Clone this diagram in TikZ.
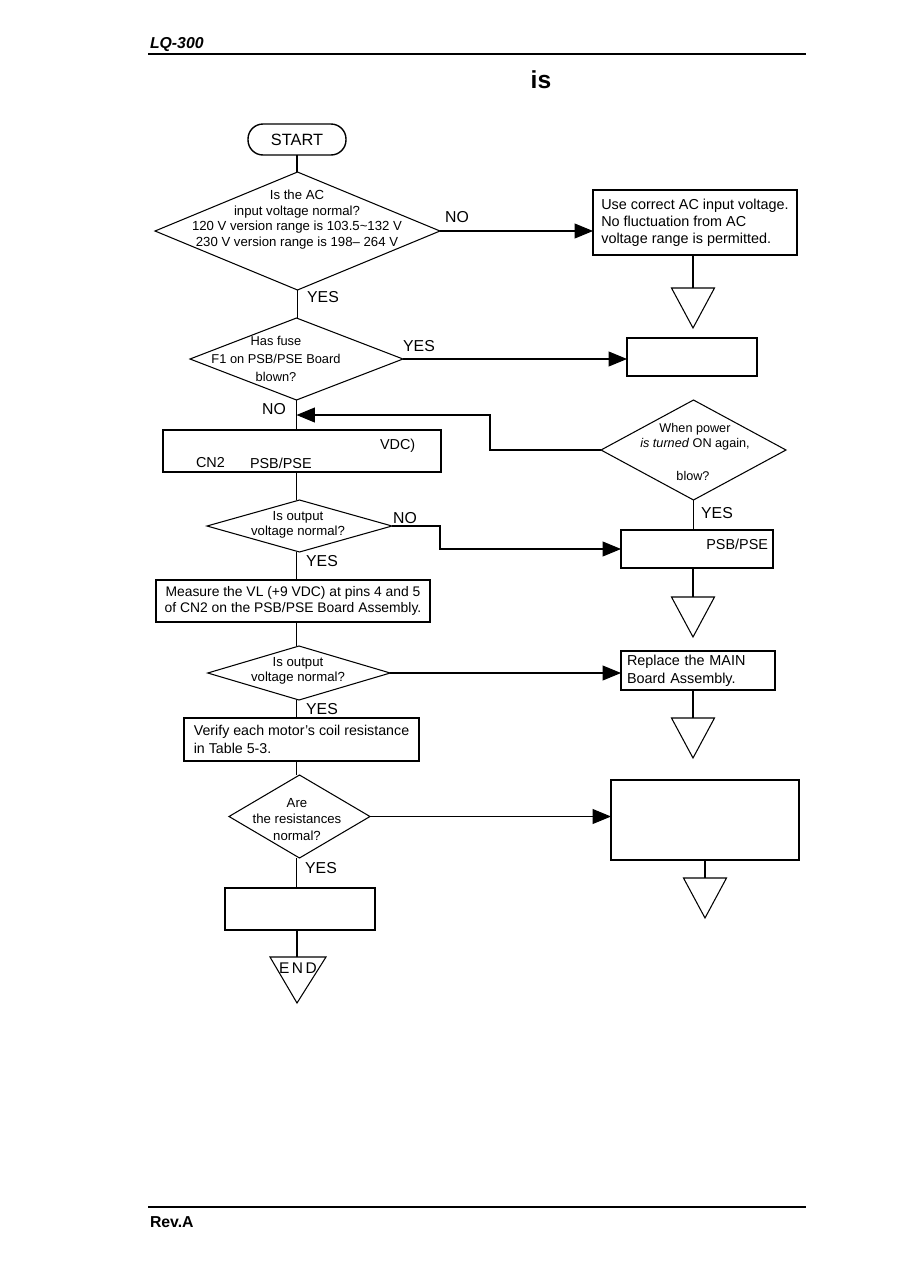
\documentclass[tikz,border=0pt]{standalone}
\usepackage{fontspec}
\setmainfont{Liberation Sans}
\usetikzlibrary{shapes.geometric,arrows.meta}
\tikzset{
  every node/.style={inner sep=0pt, outer sep=0pt},
  box/.style={draw, rectangle, line width=0.9pt},
  dia/.style={draw, diamond, line width=0.6pt, inner sep=0pt},
  ln/.style={line width=0.6pt},
  arr/.style={ln, -{Triangle[length=0.37cm,width=0.3cm]}},
  lbl/.style={font=\fontsize{9}{10}\selectfont},
  dtxt/.style={align=center, font=\fontsize{7.5}{8.9}\selectfont},
  btxt/.style={font=\fontsize{8.2}{9.8}\selectfont},
  stoptri/.pic={\coordinate (-top) at (0,0);
    \draw[ln] (-21.5,0) -- (21.5,0) -- (0,40) -- cycle;}
}
\begin{document}
\begin{tikzpicture}[x=0.02cm,y=-0.02cm]
\path[fill=white, use as bounding box] (0,0) rectangle (905,1272);

% header / footer
\node[anchor=west, font=\fontsize{9}{10}\selectfont\bfseries\itshape] (hdr) at (150,45) {LQ-300};
\draw[line width=1.2pt] (148,54) -- (806,54);
\node[font=\fontsize{14}{16}\selectfont\bfseries] (is) at (541,80) {is};
\draw[line width=0.7pt] (148,1207) -- (806,1207);
\node[anchor=west, font=\fontsize{9}{10}\selectfont\bfseries] (rev) at (150,1222) {Rev.A};

% start
\node[draw, line width=0.8pt, rounded corners=0.3cm, minimum width=1.96cm, minimum height=0.62cm,
      font=\fontsize{9.3}{10}\selectfont] (start) at (297,139.5) {START};

% diamond 1
\node[dia, minimum width=5.7cm, minimum height=2.36cm] (d1) at (297.5,231) {};
\node[dtxt] (d1t) at (297,219.5) {Is the AC\\input voltage normal?\\120 V version range is 103.5\textasciitilde132 V\\230 V version range is 198\textendash\ 264 V};

% box 1
\node[box, minimum width=4.08cm, minimum height=1.3cm, align=left, btxt]
  (b1) at (695,222.5) {Use correct AC input voltage.\\No fluctuation from AC\\voltage range is permitted.};
\pic (t1) at (693,288) {stoptri};

% diamond 2
\node[dia, minimum width=4.26cm, minimum height=1.64cm] (d2) at (296.5,359) {};
\node[dtxt, font=\fontsize{7.3}{10.2}\selectfont] (d2t) at (276,359) {Has fuse\\F1 on PSB/PSE Board\\blown?};

% box 2
\node[box, minimum width=2.6cm, minimum height=0.76cm] (b2) at (692,357) {};

% diamond 3
\node[dia, minimum width=3.7cm, minimum height=2.0cm] (d3) at (693.5,450) {};
\node[dtxt, font=\fontsize{7.2}{8.6}\selectfont] (d3a) at (695,437) {When power\\\textit{is turned} ON again,};
\node[dtxt, font=\fontsize{7.2}{8.6}\selectfont] (d3b) at (693,476) {blow?};

% box 3
\node[box, minimum width=5.56cm, minimum height=0.84cm] (b3) at (302,451) {};
\node[btxt, anchor=west] (b3a) at (380,446) {VDC)};
\node[btxt, anchor=west] (b3b) at (196,463) {CN2};
\node[btxt, anchor=west] (b3c) at (250,463) {PSB/PSE};

% box 4
\node[box, minimum width=3.04cm, minimum height=0.76cm] (b4) at (697,549) {};
\node[btxt, anchor=east] (b4a) at (768,544) {PSB/PSE};
\pic (t2) at (693,597) {stoptri};

% diamond 4
\node[dia, minimum width=3.7cm, minimum height=1.04cm] (d4) at (299.5,526) {};
\node[dtxt] (d4t) at (298,525) {Is output\\voltage normal?};

% box 5
\node[box, minimum width=5.48cm, minimum height=0.84cm, align=center, font=\fontsize{7.9}{9.4}\selectfont]
  (b5) at (293,601) {Measure the VL (+9 VDC) at pins 4 and 5\\of CN2 on the PSB/PSE Board Assembly.};

% diamond 5
\node[dia, minimum width=3.65cm, minimum height=1.08cm] (d5) at (299,673) {};
\node[dtxt] (d5t) at (298,671) {Is output\\voltage normal?};

% box 6
\node[box, minimum width=3.08cm, minimum height=0.78cm, text width=2.84cm, inner xsep=0.12cm, align=left, font=\fontsize{8.2}{10.2}\selectfont]
  (b6) at (698,670.5) {Replace the MAIN\\Board Assembly.};
\pic (t3) at (693,718) {stoptri};

% box 7
\node[box, minimum width=4.7cm, minimum height=0.86cm, align=left, font=\fontsize{8.1}{10.2}\selectfont]
  (b7) at (301.5,739.5) {Verify each motor's coil resistance\\in Table 5-3.};

% diamond 6
\node[dia, minimum width=2.82cm, minimum height=1.66cm] (d6) at (299.5,816.5) {};
\node[dtxt, font=\fontsize{7.5}{9.3}\selectfont] (d6t) at (297,819.5) {Are\\the resistances\\normal?};

% box 8
\node[box, minimum width=3.76cm, minimum height=1.6cm] (b8) at (705,820) {};
\pic (t4) at (705,878) {stoptri};

% box 9
\node[box, minimum width=3.0cm, minimum height=0.84cm] (b9) at (300,909) {};

% END triangle
\coordinate (endt) at (297,957);
\draw[ln] (270,957) -- (326,957) -- (297,1003) -- cycle;
\node[font=\fontsize{8.8}{10}\selectfont] (endtxt) at (298,968) {E\,N\,D};

% connectors
\draw[ln] (start.south) -- (start.south |- d1.north);
\draw[arr] (d1.east) -- (d1.east -| b1.west);
\draw[ln] (t1-top |- b1.south) -- (t1-top);
\draw[ln] (d1.south) -- (d1.south |- d2.north);
\draw[arr] (d2.east) -- (d2.east -| b2.west);
\draw[ln] (d2.south) -- (d2.south |- b3.north);
\coordinate (k1) at (490,415);
\draw[arr] (d3.west) -| (k1) -- (d2.south |- k1);
\draw[ln] (d3.south) -- (d3.south |- b4.north);
\draw[ln] (t2-top |- b4.south) -- (t2-top);
\draw[ln] (d2.south |- b3.south) -- (d2.south |- d4.north);
\coordinate (k2) at (440,526);
\draw[arr] (d4.east) -- (k2) |- (b4.west);
\draw[ln] (d2.south |- d4.south) -- (d2.south |- b5.north);
\draw[ln] (d2.south |- b5.south) -- (d2.south |- d5.north);
\draw[arr] (d5.east) -- (d5.east -| b6.west);
\draw[ln] (t3-top |- b6.south) -- (t3-top);
\draw[ln] (d2.south |- d5.south) -- (d2.south |- b7.north);
\draw[ln] (d2.south |- b7.south) -- (d2.south |- d6.north);
\draw[arr] (d6.east) -- (d6.east -| b8.west);
\draw[ln] (t4-top |- b8.south) -- (t4-top);
\draw[ln] (d2.south |- d6.south) -- (d2.south |- b9.north);
\draw[ln] (endt |- b9.south) -- (endt);

% labels
\node[lbl] (l1) at (457,217) {NO};
\node[lbl] (l2) at (323,297) {YES};
\node[lbl] (l3) at (419,346) {YES};
\node[lbl] (l4) at (274,409) {NO};
\node[lbl] (l5) at (717,513) {YES};
\node[lbl] (l6) at (405,518) {NO};
\node[lbl] (l7) at (322,561) {YES};
\node[lbl] (l8) at (322,709) {YES};
\node[lbl] (l9) at (321,868) {YES};
\end{tikzpicture}
\end{document}
